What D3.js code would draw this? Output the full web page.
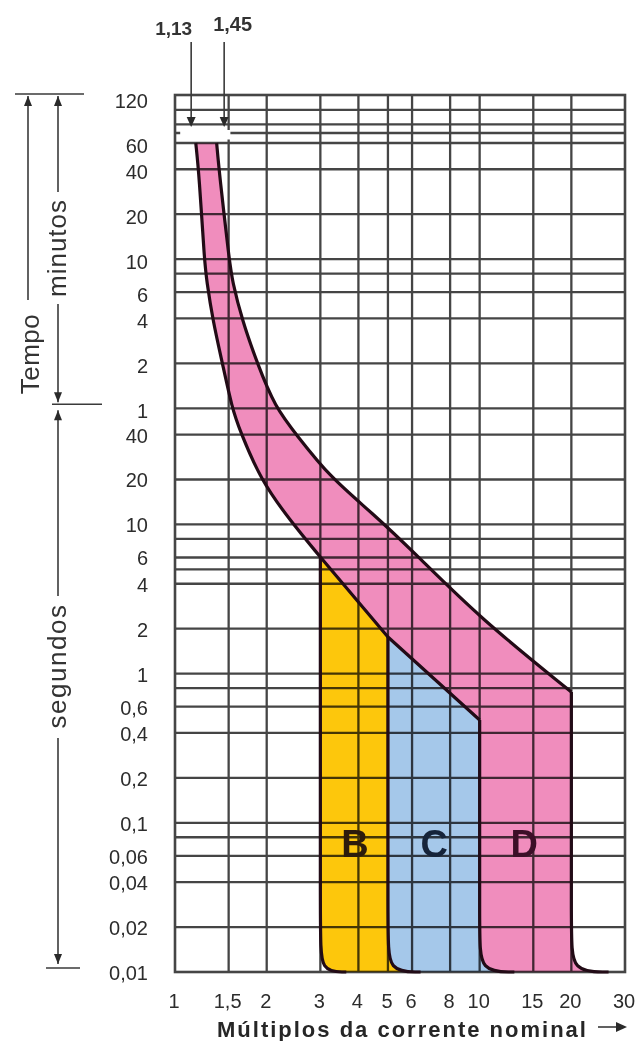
<!DOCTYPE html>
<html><head><meta charset="utf-8">
<script src="https://cdn.jsdelivr.net/npm/d3@7"></script>
<style>body{margin:0;background:#fff}svg{display:block}</style>
</head><body>
<svg id="c" width="635" height="1041"></svg>
<script>
// ---------- data ----------
const xTicks = [1,1.5,2,3,4,5,6,8,10,15,20,30];
const xTickLabels = ["1","1,5","2","3","4","5","6","8","10","15","20","30"];
const xGrid = [1.5,2,3,4,5,6,8,10,15,20];
const minuteTicks = [120,60,40,20,10,6,4,2,1];
const secondTicks = [40,20,10,6,4,2,1,0.6,0.4,0.2,0.1,0.06,0.04,0.02,0.01];
const secondTickLabels = ["40","20","10","6","4","2","1","0,6","0,4","0,2","0,1","0,06","0,04","0,02","0,01"];
const minuteGrid = [1,2,4,6,8,10,20,40,60,70,80,100];
const secondGrid = [0.02,0.04,0.06,0.08,0.1,0.2,0.4,0.6,0.8,1,2,4,5,6,8,10,20,40];
// curves: [multiple of nominal current, time in seconds]
const upperCurve = [[1.37,3600],[1.40,2200],[1.51,574],[1.54,434],[1.66,234],[1.86,121],[2.13,61],[2.51,39.7],[3.22,20.8],[4.45,11.9],[6.12,6.43],[10,2.36],[20,0.753]];
const lowerCurveTop = [[1.17,3600],[1.20,2200],[1.25,574],[1.27,434],[1.33,234],[1.43,121],[1.54,60],[1.63,42.9],[1.91,19.9],[2.38,10.7],[3,6.04]];
const lowerCurveSteps = [[3,6.04],[5,1.76],[10,0.489]];
const tripLimits = [3,5,10,20];
const tailEnds = [3.65,6.4,13,26.5];
const tailBend = 0.018, floorTime = 0.01;
const classNames = ["B","C","D"];
const classCenters = [3.9,7.1,14];
const classLabelTime = 0.072;
const limitLabels = ["1,13","1,45"];
const limitValues = [1.13,1.45];
const gapX = [1.04,1.52], gapT = [3800,4400];

// ---------- scales ----------
const x = d3.scaleLog().domain([1,30]).range([175,625]);
const y = d3.scaleLog().domain([0.01,7550]).range([972,95]);
const svg = d3.select("#c");
const FONT = "'Liberation Sans', Arial, sans-serif";

const lin = d3.line().x(d=>x(d[0])).y(d=>y(d[1]));
const cr = d3.line().x(d=>x(d[0])).y(d=>y(d[1])).curve(d3.curveBasis);
const bas = d3.line().x(d=>x(d[0])).y(d=>y(d[1])).curve(d3.curveBasis);
const rev = a => a.slice().reverse();
function join(...parts){ return parts.map((p,i)=> i===0 ? p : p.replace(/^M/,'L')).join('') + 'Z'; }
function startTime(r){
  const s = lowerCurveSteps.find(d=>d[0]===r); if (s) return s[1];
  return upperCurve.find(d=>d[0]===r)[1];
}
function tail(r){
  const i = tripLimits.indexOf(r);
  return [[r,startTime(r)],[r,tailBend],[r,floorTime],[tailEnds[i],floorTime]];
}

// ---------- fills ----------
const gF = svg.append("g");
gF.append("path").attr("fill","#f08dbd")
  .attr("d", join(cr(upperCurve), bas(tail(20)), bas(rev(tail(10))), lin(rev(lowerCurveSteps)), cr(rev(lowerCurveTop))));
gF.append("path").attr("fill","#fdc70c")
  .attr("d", join(lin(lowerCurveSteps.slice(0,2)), bas(tail(5)), bas(rev(tail(3)))));
gF.append("path").attr("fill","#a5c8ea")
  .attr("d", join(lin(lowerCurveSteps.slice(1,3)), bas(tail(10)), bas(rev(tail(5)))));

// ---------- grid ----------
const gG = svg.append("g").style("mix-blend-mode","multiply");
const hVals = minuteGrid.map(m=>m*60).concat(secondGrid);
gG.selectAll("line.h").data(hVals).join("line").attr("class","h")
  .attr("x1",x(1)).attr("x2",x(30)).attr("y1",d=>y(d)).attr("y2",d=>y(d))
  .attr("stroke","#454545").attr("stroke-width",2.3);
gG.selectAll("line.v").data(xGrid).join("line").attr("class","v")
  .attr("x1",d=>x(d)).attr("x2",d=>x(d)).attr("y1",y(7550)).attr("y2",y(0.01))
  .attr("stroke","#454545").attr("stroke-width",2.3);
gG.append("rect").attr("x",x(1)).attr("y",y(7550)).attr("width",x(30)-x(1)).attr("height",y(0.01)-y(7550))
  .attr("fill","none").attr("stroke","#454545").attr("stroke-width",2.6);

// white gap near the top
svg.append("rect").attr("x",x(gapX[0])).attr("width",x(gapX[1])-x(gapX[0]))
  .attr("y",y(gapT[1])).attr("height",y(gapT[0])-y(gapT[1])).attr("fill","#fff");

// ---------- curves ----------
const gC = svg.append("g").attr("fill","none").attr("stroke","#220b16").attr("stroke-width",3.2).attr("stroke-linejoin","round");
gC.append("path").attr("d",cr(upperCurve));
gC.append("path").attr("d",cr(lowerCurveTop));
gC.append("path").attr("d",lin(lowerCurveSteps));
tripLimits.forEach(r=> gC.append("path").attr("d",bas(tail(r))));

// ---------- class labels ----------
const classColors = ["#2d1c0c","#15243a","#3c0f28"];
svg.selectAll("text.cls").data(classNames).join("text").attr("class","cls")
  .attr("x",(d,i)=>x(classCenters[i])).attr("y",y(classLabelTime))
  .attr("text-anchor","middle").attr("dominant-baseline","central")
  .attr("font-family",FONT).attr("font-weight","bold").attr("font-size",38)
  .attr("fill",(d,i)=>classColors[i]).text(d=>d);

// ---------- tick labels ----------
const tickStyle = s => s.attr("font-family",FONT).attr("font-size",20).attr("fill","#2c2c2c");
svg.selectAll("text.ym").data(minuteTicks).join("text").attr("class","ym")
  .attr("x",148).attr("y",d=>y(d*60)+3).attr("text-anchor","end").attr("dominant-baseline","central")
  .call(tickStyle).text(d=>d);
svg.selectAll("text.ys").data(secondTicks).join("text").attr("class","ys")
  .attr("x",148).attr("y",d=>y(d)+1).attr("text-anchor","end").attr("dominant-baseline","central")
  .call(tickStyle).text((d,i)=>secondTickLabels[i]);
svg.selectAll("text.xt").data(xTicks).join("text").attr("class","xt")
  .attr("x",d=>x(d)-1).attr("y",1001).attr("text-anchor","middle").attr("dominant-baseline","central")
  .call(tickStyle).text((d,i)=>xTickLabels[i]);

// x title and arrow
svg.append("text").attr("x",217).attr("y",1029).attr("dominant-baseline","central")
  .attr("font-family",FONT).attr("font-weight","bold").attr("font-size",22).attr("letter-spacing",2)
  .attr("fill","#262626").text("Múltiplos da corrente nominal");
const ann = svg.append("g").attr("stroke","#3a3a3a").attr("stroke-width",1.6).attr("fill","#2a2a2a");
ann.append("line").attr("x1",598).attr("x2",618).attr("y1",1027).attr("y2",1027);
ann.append("path").attr("stroke","none").attr("d","M627,1027 L616,1022 L616,1032 Z");

// ---------- limit labels on top ----------
limitValues.forEach((v,i)=>{
  const xx = x(v);
  ann.append("line").attr("x1",xx).attr("x2",xx).attr("y1",42).attr("y2",118);
  ann.append("path").attr("stroke","none").attr("d",`M${xx},127 L${xx-4.5},117 L${xx+4.5},117 Z`);
});
svg.append("text").attr("x",x(limitValues[0])+1).attr("y",28).attr("text-anchor","end").attr("dominant-baseline","central")
  .attr("font-family",FONT).attr("font-weight","bold").attr("font-size",19).attr("fill","#333").text(limitLabels[0]);
svg.append("text").attr("x",x(limitValues[1])-11).attr("y",24).attr("text-anchor","start").attr("dominant-baseline","central")
  .attr("font-family",FONT).attr("font-weight","bold").attr("font-size",20).attr("fill","#333").text(limitLabels[1]);

// ---------- left time annotations ----------
const yT = y(7550)-1, yMid = y(60)-4, yB = y(0.01)-4;
function arrow(xx, tip, dir){ // dir -1 up, +1 down
  ann.append("path").attr("stroke","none").attr("d",`M${xx},${tip} L${xx-4},${tip-dir*10} L${xx+4},${tip-dir*10} Z`);
}
ann.append("line").attr("x1",15).attr("x2",84).attr("y1",yT).attr("y2",yT);
ann.append("line").attr("x1",28).attr("x2",28).attr("y1",yT+2).attr("y2",300);
arrow(28,yT+2,-1);
ann.append("line").attr("x1",58).attr("x2",58).attr("y1",yT+2).attr("y2",192);
arrow(58,yT+2,-1);
ann.append("line").attr("x1",58).attr("x2",58).attr("y1",304).attr("y2",yMid-2);
arrow(58,yMid-2,1);
ann.append("line").attr("x1",52).attr("x2",102).attr("y1",yMid).attr("y2",yMid);
ann.append("line").attr("x1",58).attr("x2",58).attr("y1",yMid+6).attr("y2",596);
arrow(58,yMid+6,-1);
ann.append("line").attr("x1",58).attr("x2",58).attr("y1",738).attr("y2",yB-4);
arrow(58,yB-4,1);
ann.append("line").attr("x1",46).attr("x2",80).attr("y1",yB).attr("y2",yB);

const rotText = (cx, cy, txt, size, ls) => svg.append("text")
  .attr("transform",`translate(${cx},${cy}) rotate(-90)`).attr("text-anchor","middle").attr("dominant-baseline","central")
  .attr("font-family",FONT).attr("font-size",size).attr("letter-spacing",ls).attr("fill","#333").text(txt);
rotText(30,354,"Tempo",26,0.5);
rotText(57,248,"minutos",26,1);
rotText(57,666,"segundos",26,1.5);
</script>
</body></html>
